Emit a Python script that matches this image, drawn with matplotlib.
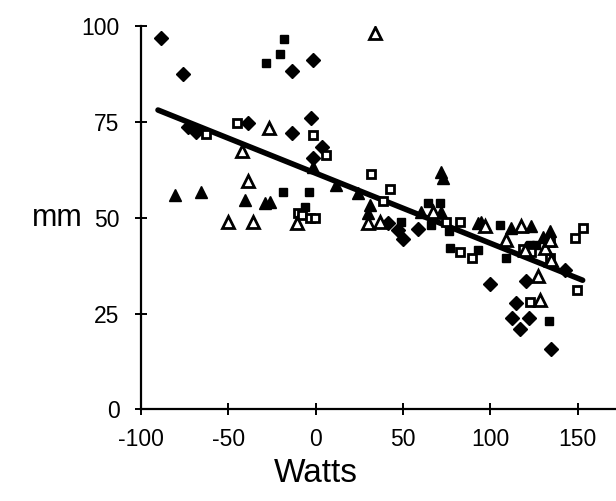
import matplotlib
matplotlib.use("Agg")
import matplotlib.pyplot as plt
import numpy as np

plt.rcParams['font.family'] = ['Liberation Sans', 'DejaVu Sans']
plt.rcParams['axes.unicode_minus'] = False

# filled diamonds
fd_x = [-88.7, -76.1, -13.8, -1.8, -72.9, -68.5, -38.6, -13.4, -2.9, 3.9, -1.8,
        41.5, 47.2, 50.1, 58.6, 99.7, 120.7, 114.9, 112.6, 122.2, 116.8, 135.0, 142.6]
fd_y = [96.8, 87.5, 88.4, 91.2, 73.6, 72.4, 74.6, 72.2, 76.1, 68.5, 65.5,
        48.5, 46.8, 44.4, 47.0, 32.6, 33.6, 27.8, 23.7, 23.7, 20.9, 15.7, 36.4]

# filled squares
fs_x = [-18.2, -20.5, -28.5, -18.9, -3.9, -6.2, 49.1, 64.3, 71.0, 66.3, 76.2,
        76.8, 93.2, 105.4, 109.2, 122.5, 126.4, 133.6]
fs_y = [96.6, 92.6, 90.4, 56.8, 56.8, 52.9, 49.0, 53.8, 53.8, 48.1, 46.4,
        42.0, 41.5, 48.1, 39.6, 42.9, 42.9, 23.0]

# filled triangles
ft_x = [-80.5, -65.8, -40.5, -29.1, -26.2, -1.5, 11.9, 24.3, 31.0, 30.0, 72.0,
        72.9, 60.6, 72.0, 93.0, 94.9, 112.1, 123.5, 134.0, 130.2]
ft_y = [55.9, 56.8, 54.6, 53.9, 54.2, 63.3, 58.4, 56.4, 53.3, 51.2, 62.0,
        60.3, 51.6, 51.6, 48.5, 49.0, 47.2, 47.7, 46.4, 45.0]

# open squares
os_x = [-63.0, -44.9, -1.8, 5.8, -10.2, -8.1, -3.3, -0.5, 31.6, 42.4, 38.6,
        74.9, 82.5, 82.5, 89.8, 118.7, 123.5, 134.0, 134.0, 153.1, 148.3, 149.6, 122.5]
os_y = [71.8, 74.8, 71.6, 66.4, 51.2, 50.7, 49.8, 49.8, 61.3, 57.5, 54.4,
        49.0, 49.0, 41.0, 39.6, 41.8, 41.1, 43.7, 39.4, 47.2, 44.6, 31.1, 28.1]

# open triangles
ot_x = [-26.8, -42.0, -38.6, -50.0, -35.8, -10.9, 33.9, 30.0, 36.7, 67.2, 96.8,
        117.8, 109.2, 119.7, 131.1, 134.0, 135.0, 127.3, 128.7]
ot_y = [73.3, 67.4, 59.5, 48.8, 48.8, 48.5, 98.1, 48.5, 49.0, 51.6, 47.7,
        47.7, 44.2, 41.6, 42.0, 44.2, 39.0, 34.9, 28.5]

# regression line
fit_slope = -0.1826
fit_icpt = 61.6
fit_xrange = [-90.3, 152.9]

xticks = [-100, -50, 0, 50, 100, 150]
yticks = [0, 25, 50, 75, 100]

fig = plt.figure(figsize=(6.16, 5.01), dpi=100)
ax = fig.add_axes([0.229, 0.183, 0.771, 0.765])

fx = np.array(fit_xrange)
ax.plot(fx, fit_slope * fx + fit_icpt, color='black', lw=4, solid_capstyle='round', zorder=3)

ax.plot(fd_x, fd_y, 'D', color='black', ms=7, ls='none', zorder=4)
ax.plot(fs_x, fs_y, 's', color='black', ms=6.3, ls='none', zorder=4)
ax.plot(ft_x, ft_y, '^', color='black', ms=8, ls='none', zorder=4)
ax.plot(os_x, os_y, 's', mfc='white', mec='black', mew=2, ms=6.3, ls='none', zorder=4)
ax.plot(ot_x, ot_y, '^', mfc='white', mec='black', mew=2, ms=8, ls='none', zorder=4)

ax.set_xlim(-100, 172)
ax.set_ylim(0, 100)
ax.set_xticks(xticks)
ax.set_yticks(yticks)
ax.spines['top'].set_visible(False)
ax.spines['right'].set_visible(False)
ax.spines['left'].set_linewidth(1.6)
ax.spines['bottom'].set_linewidth(1.6)
ax.tick_params(direction='inout', length=9, width=1.4, labelsize=16.5)
ax.tick_params(axis='x', pad=9)
ax.tick_params(axis='y', pad=11)

ax.set_xlabel('Watts', fontsize=24, va='center')
ax.xaxis.set_label_coords(0.368, -0.168)
ax.set_ylabel('mm', fontsize=22, rotation=0, ha='center', va='center')
ax.yaxis.set_label_coords(-0.177, 0.5)

fig.savefig('out.png', dpi=100)
